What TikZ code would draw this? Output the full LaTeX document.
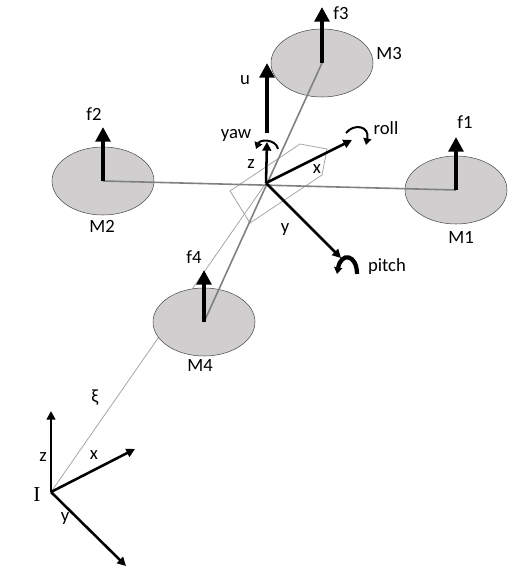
\documentclass[tikz,border=0pt]{standalone}
\usepackage{fontspec}
\setmainfont{Carlito}
\newfontfamily\serifI{Liberation Serif}
\usetikzlibrary{shapes,arrows.meta,calc,positioning}
\definecolor{discgray}{HTML}{D0CECE}
\tikzstyle{motor} = [draw=black!70, fill=discgray, ellipse, minimum width=76.5pt, minimum height=51pt, inner sep=0pt]
\tikzstyle{arm} = [draw=black!50, line width=1.2pt]
\tikzstyle{frame} = [draw, -{Triangle[width=6.5pt,length=6.5pt]}, line width=1.9pt]
\tikzstyle{force} = [draw, -{Triangle[width=11pt,length=11pt]}, line width=3.6pt]
\tikzstyle{spin} = [draw, -{Triangle[width=6pt,length=5pt]}, line width=1.5pt]
\tikzstyle{thin} = [draw=black!35, line width=0.6pt]
\tikzstyle{lbl} = [inner sep=0pt, font=\fontsize{14}{16}\selectfont]

\begin{document}
\begin{tikzpicture}[
      x = 0.75pt,
      y = -0.75pt
    ]
      \useasboundingbox (0,0) rectangle (519,579);
      \coordinate (body) at (266,183);
      \coordinate (origin) at (51,492);
      % body outline and position
      \draw[thin] (300,144) -- (327,149) -- (322,175) -- (250,223) -- (230,191) -- cycle;
      \draw[thin] (origin) -- (body);
      % motors
      \node[motor] (m1) at (456,190) {};
      \node[motor] (m2) at (103,181) {};
      \node[motor] (m3) at (322,63)  {};
      \node[motor] (m4) at (204,322) {};
      \draw[arm] (m2.center) -- (m1.center);
      \draw[arm] (m3.center) -- (m4.center);
      % thrusts
      \coordinate (f1top) at (456,137);
      \coordinate (f2top) at (103,127);
      \coordinate (f3top) at (322,7);
      \coordinate (f4top) at (204,270);
      \coordinate (ubase) at (267,133);
      \coordinate (utop)  at (267,63);
      \draw[force] (m1.center) -- (f1top);
      \draw[force] (m2.center) -- (f2top);
      \draw[force] (m3.center) -- (f3top);
      \draw[force] (m4.center) -- (f4top);
      \draw[force] (ubase) -- (utop);
      % body axes
      \coordinate (bz) at (267,142);
      \coordinate (bx) at (352,140);
      \coordinate (by) at (341,258);
      \draw[frame] (body) -- (bz);
      \draw[frame] (body) -- (bx);
      \draw[frame] (body) -- (by);
      % inertial axes
      \coordinate (iz) at (51,411);
      \coordinate (ix) at (135,449);
      \coordinate (iy) at (126,566);
      \draw[frame] (origin) -- (iz);
      \draw[frame] (origin) -- (ix);
      \draw[frame] (origin) -- (iy);
      % rotations
      \coordinate (yawa) at (278,149);
      \coordinate (yawb) at (256,149);
      \coordinate (rolla) at (346,133);
      \coordinate (rollb) at (366,145);
      \coordinate (pitcha) at (357,274);
      \coordinate (pitchb) at (337,274);
      \draw[spin] (yawa) .. controls (276,139) and (260,139) .. (yawb);
      \draw[spin] (rolla) .. controls (354,123) and (370,126) .. (rollb);
      \draw[spin, line width=3.2pt] (pitcha) .. controls (357,254) and (341,252) .. (pitchb);
      % labels
      \node[lbl] (lm1) at (461,237) {M1};
      \node[lbl] (lm2) at (102,226) {M2};
      \node[lbl] (lm3) at (389,54)  {M3};
      \node[lbl] (lm4) at (200,366) {M4};
      \node[lbl] (lf1) at (465,122) {f1};
      \node[lbl] (lf2) at (94,114)  {f2};
      \node[lbl] (lf3) at (341,13)  {f3};
      \node[lbl] (lf4) at (194,257) {f4};
      \node[lbl] (lu)  at (245,80)  {u};
      \node[lbl] (lyaw)   at (236,135) {yaw};
      \node[lbl] (lroll)  at (386,128) {roll};
      \node[lbl] (lpitch) at (387,267) {pitch};
      \node[lbl] (lbz) at (251,164) {z};
      \node[lbl] (lbx) at (317,169) {x};
      \node[lbl] (lby) at (285,230) {y};
      \node[lbl] (lxi) at (95,398)  {ξ};
      \node[lbl,font=\fontsize{16}{18}\selectfont] (li) at (37,495) {\serifI I};
      \node[lbl] (liz) at (43,457)  {z};
      \node[lbl] (lix) at (94,455)  {x};
      \node[lbl] (liy) at (65,519)  {y};
    \end{tikzpicture}
\end{document}
